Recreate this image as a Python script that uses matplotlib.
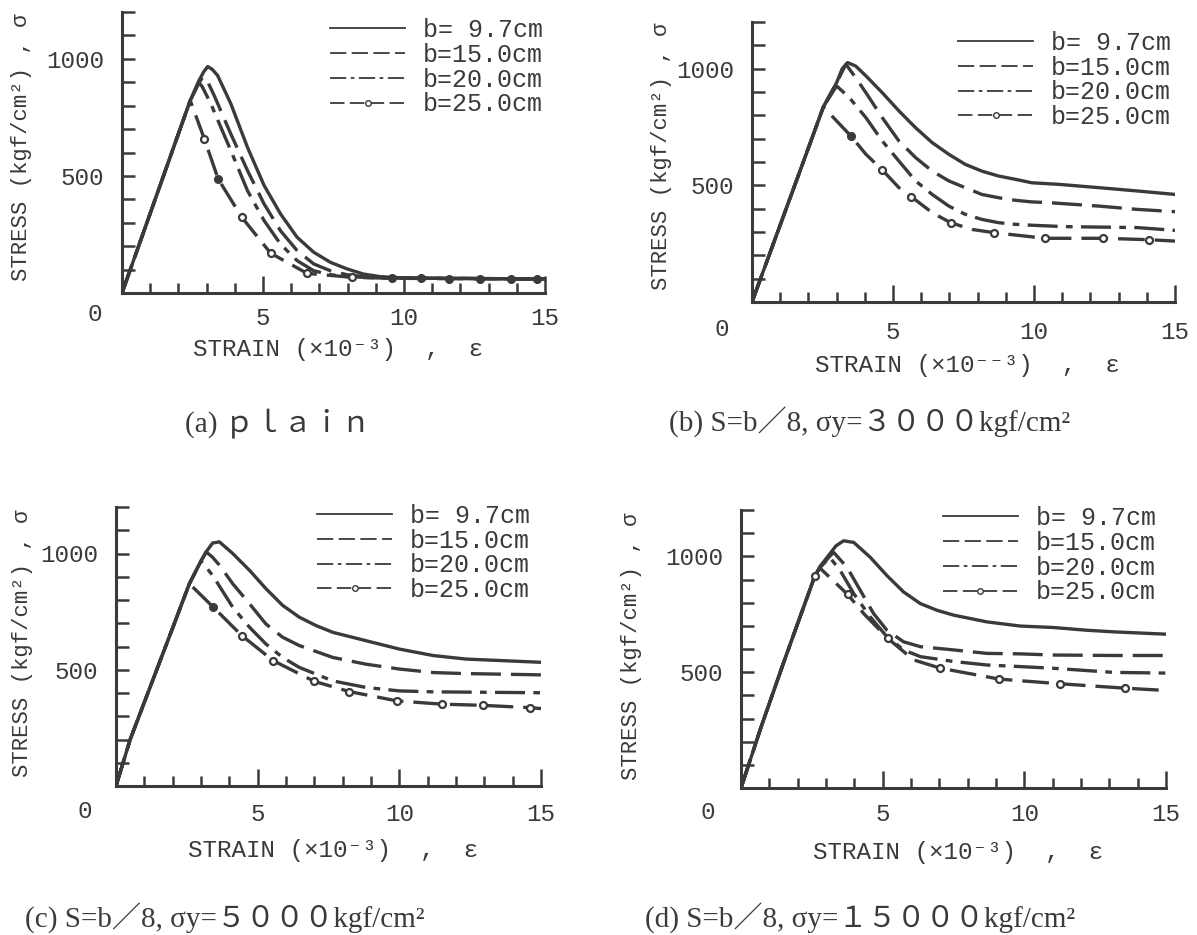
import matplotlib
matplotlib.use("Agg")
import matplotlib.pyplot as plt
from matplotlib.lines import Line2D

plt.rcParams['font.family'] = ['Liberation Mono', 'DejaVu Sans Mono', 'Noto Sans CJK JP']

INK = '#3a3a3a'
W, H = 1197, 935

LABELS = ['b= 9.7cm', 'b=15.0cm', 'b=20.0cm', 'b=25.0cm']

# (a) plain  -- strain (x1e-3), stress (kgf/cm2)
a_x97 = [0, 1.0, 2.0, 2.42, 2.72, 2.9, 3.04, 3.2, 3.39, 3.86, 4.45, 5.04, 5.62, 6.21, 6.8, 7.39, 7.98, 8.56, 9.15, 10, 12, 14, 15]
a_y97 = [0, 340, 680, 822, 905, 945, 967, 955, 929, 808, 622, 459, 338, 238, 174, 131, 103, 81, 70, 64, 62, 60, 60]
a_x15 = [0, 1.0, 2.0, 2.42, 2.72, 2.86, 3.0, 3.27, 3.86, 4.45, 5.04, 5.62, 6.21, 6.8, 7.39, 7.98, 8.56, 9.15, 10, 15]
a_y15 = [0, 340, 680, 822, 895, 922, 912, 843, 679, 523, 380, 266, 181, 124, 95, 78, 70, 66, 64, 60]
a_x20 = [0, 1.0, 2.0, 2.42, 2.72, 2.85, 3.15, 3.86, 4.45, 5.04, 5.62, 6.21, 6.8, 7.39, 7.98, 9.0, 15]
a_y20 = [0, 340, 680, 822, 900, 880, 808, 608, 437, 309, 209, 138, 95, 78, 70, 65, 60]
a_x25 = [0, 1.0, 2.0, 2.42, 2.92, 3.41, 4.25, 5.27, 6.56, 8.15, 9.56, 10.6, 11.6, 12.7, 13.8, 14.7, 15]
a_y25 = [0, 340, 680, 822, 658, 487, 323, 170, 84, 67, 63, 62, 61, 61, 60, 60, 60]
a_open = [4, 6, 7, 8, 9]
a_fill = [5, 10, 11, 12, 13, 14, 15]

# (b) S=b/8, sy=3000
b_x97 = [0, 1.0, 2.0, 2.53, 3.0, 3.2, 3.39, 3.68, 4.04, 4.62, 5.21, 5.8, 6.39, 6.98, 7.56, 8.15, 8.74, 9.33, 9.92, 10.9, 12.3, 13.65, 15]
b_y97 = [0, 330, 660, 836, 940, 1000, 1026, 1011, 969, 897, 819, 747, 683, 633, 590, 561, 540, 526, 511, 504, 490, 476, 461]
b_x15 = [0, 1.0, 2.0, 2.53, 3.0, 3.33, 3.68, 4.04, 4.62, 5.21, 5.8, 6.39, 6.98, 7.56, 8.15, 8.74, 9.33, 9.92, 10.5, 12.3, 13.65, 15]
b_y15 = [0, 330, 660, 836, 940, 1019, 961, 897, 790, 690, 619, 561, 519, 490, 461, 447, 436, 429, 426, 411, 397, 387]
b_x20 = [0, 1.0, 2.0, 2.53, 3.0, 3.45, 4.04, 4.62, 5.21, 5.8, 6.39, 6.98, 7.56, 8.15, 8.74, 9.33, 9.92, 11.1, 13.65, 15]
b_y20 = [0, 330, 660, 836, 926, 876, 790, 690, 604, 519, 461, 411, 376, 354, 340, 333, 329, 323, 319, 307]
b_x25 = [0, 1.0, 2.0, 2.53, 3.51, 4.04, 4.62, 5.21, 5.65, 6.39, 7.04, 7.8, 8.59, 10.4, 12.44, 14.09, 15]
b_y25 = [0, 330, 660, 836, 711, 633, 566, 490, 451, 383, 340, 311, 297, 273, 273, 267, 261]
b_open = [6, 8, 10, 12, 13, 14, 15]
b_fill = [4]

# (c) S=b/8, sy=5000
c_x97 = [0, 0.5, 1.0, 2.0, 2.59, 3.0, 3.2, 3.41, 3.65, 4.12, 4.71, 5.29, 5.88, 6.47, 7.06, 7.65, 8.82, 10.0, 11.2, 12.35, 15]
c_y97 = [0, 200, 360, 680, 870, 968, 1010, 1045, 1050, 1000, 928, 849, 777, 726, 690, 661, 625, 589, 561, 546, 532]
c_x15 = [0, 0.5, 1.0, 2.0, 2.59, 3.0, 3.18, 3.4, 3.65, 4.12, 4.71, 5.29, 5.88, 6.47, 7.65, 8.82, 10.0, 11.2, 12.17, 15]
c_y15 = [0, 200, 360, 680, 870, 968, 1007, 985, 950, 870, 784, 697, 640, 604, 553, 524, 503, 488, 484, 478]
c_x20 = [0, 0.5, 1.0, 2.0, 2.59, 3.0, 3.41, 4.12, 4.71, 5.29, 5.88, 6.47, 7.65, 8.82, 10.0, 11.2, 15]
c_y20 = [0, 200, 360, 680, 870, 968, 906, 769, 683, 611, 553, 510, 452, 424, 409, 405, 401]
c_x25 = [0, 0.5, 1.0, 2.0, 2.59, 3.41, 4.44, 5.55, 7.0, 8.24, 9.92, 11.5, 12.94, 14.6, 15]
c_y25 = [0, 200, 360, 680, 870, 772, 647, 539, 450, 406, 366, 352, 347, 337, 333]
c_open = [6, 7, 8, 9, 10, 11, 12, 13]
c_fill = [5]

# (d) S=b/8, sy=15000
d_x97 = [0, 0.7, 1.5, 2.0, 2.6, 2.78, 3.13, 3.35, 3.62, 3.98, 4.56, 5.15, 5.74, 6.33, 6.92, 7.51, 8.68, 9.86, 11.0, 12.2, 13.15, 15]
d_y97 = [0, 260, 540, 710, 913, 955, 1010, 1045, 1067, 1060, 996, 917, 846, 796, 767, 746, 717, 699, 693, 681, 674, 664]
d_x15 = [0, 0.7, 1.5, 2.0, 2.6, 2.78, 3.13, 3.27, 3.74, 4.21, 4.68, 5.15, 5.74, 6.33, 7.51, 8.68, 9.86, 11.0, 13.15, 15]
d_y15 = [0, 260, 540, 710, 913, 950, 1000, 1017, 953, 853, 753, 681, 631, 610, 596, 581, 579, 574, 572, 572]
d_x20 = [0, 0.7, 1.5, 2.0, 2.6, 2.78, 3.13, 3.5, 3.98, 4.56, 5.15, 5.74, 6.33, 7.51, 8.68, 9.86, 11.0, 13.15, 15]
d_y20 = [0, 260, 540, 710, 913, 950, 996, 939, 839, 739, 653, 596, 567, 546, 531, 524, 517, 499, 496]
d_x25 = [0, 0.7, 1.5, 2.0, 2.6, 2.78, 3.76, 4.33, 5.18, 6.09, 7.04, 9.12, 11.25, 13.54, 15]
d_y25 = [0, 260, 540, 710, 913, 950, 836, 753, 646, 553, 517, 470, 450, 431, 421]
d_open = [4, 6, 8, 10, 11, 12, 13]
d_fill = []

CAPTIONS = ['(a) ｐｌａｉｎ',
            '(b) S=b／8, σy=３０００kgf/cm²',
            '(c) S=b／8, σy=５０００kgf/cm²',
            '(d) S=b／8, σy=１５０００kgf/cm²']
XLABELS = ['STRAIN (×10⁻³)  ,  ε', 'STRAIN (×10⁻⁻³)  ,  ε',
           'STRAIN (×10⁻³)  ,  ε', 'STRAIN (×10⁻³)  ,  ε']
YLABEL = 'STRESS (kgf/cm²) , σ'

LW = 2.4
STYLES = [dict(ls='-'),
          dict(ls=(0, (9, 3))),
          dict(ls=(0, (9, 2.5, 2, 2.5))),
          dict(ls=(0, (8, 3)))]

# pixel boxes: left, right, top, bottom
panels = [
    dict(box=(122, 545, 12, 293),
         curves=[(a_x97, a_y97), (a_x15, a_y15), (a_x20, a_y20), (a_x25, a_y25)],
         open=a_open, fill=a_fill, leg=(0.492, 0.978), ylab=(-0.213, 0.52),
         xlab=-0.16, zero=(-19.4, -15.8), pad=10, cap=(278, 423)),
    dict(box=(752, 1175, 22, 302),
         curves=[(b_x97, b_y97), (b_x15, b_y15), (b_x20, b_y20), (b_x25, b_y25)],
         open=b_open, fill=b_fill, leg=(0.487, 0.968), ylab=(-0.19, 0.52),
         xlab=-0.186, zero=(-21.6, -20), pad=14, cap=(870, 423)),
    dict(box=(116, 541, 507, 786),
         curves=[(c_x97, c_y97), (c_x15, c_y15), (c_x20, c_y20), (c_x25, c_y25)],
         open=c_open, fill=c_fill, leg=(0.473, 1.011), ylab=(-0.195, 0.51),
         xlab=-0.19, zero=(-22.3, -18.7), pad=12, cap=(225, 918)),
    dict(box=(741, 1166, 510, 788),
         curves=[(d_x97, d_y97), (d_x15, d_y15), (d_x20, d_y20), (d_x25, d_y25)],
         open=d_open, fill=d_fill, leg=(0.475, 1.014), ylab=(-0.233, 0.51),
         xlab=-0.19, zero=(-23.8, -17.3), pad=11, cap=(860, 918)),
]

fig = plt.figure(figsize=(W / 100, H / 100), dpi=100)

for i, p in enumerate(panels):
    l, r, t, b = p['box']
    ax = fig.add_axes([l / W, 1 - b / H, (r - l) / W, (b - t) / H])

    for (xs, ys), st in zip(p['curves'], STYLES):
        ax.plot(xs, ys, color=INK, lw=LW, solid_capstyle='round', **st)

    # circle markers on the b=25cm curve
    xs, ys = p['curves'][3]
    if p['open']:
        ax.plot([xs[k] for k in p['open']], [ys[k] for k in p['open']], ls='none',
                marker='o', ms=5, mew=1.6, mfc='white', mec=INK, zorder=3)
    if p['fill']:
        ax.plot([xs[k] for k in p['fill']], [ys[k] for k in p['fill']], ls='none',
                marker='o', ms=5.5, mfc=INK, mec=INK, zorder=3)

    ax.set_xlim(0, 15)
    ax.set_ylim(0, 1200)
    for s in ['top', 'right']:
        ax.spines[s].set_visible(False)
    for s in ['left', 'bottom']:
        ax.spines[s].set_linewidth(2.2)
        ax.spines[s].set_color(INK)

    ax.set_xticks([5, 10, 15])
    ax.set_xticks(range(1, 15), minor=True)
    ax.set_xticklabels(['5', '10', '15'])
    ax.set_yticks([500, 1000])
    ax.set_yticks([y for y in range(100, 1201, 100) if y not in (500, 1000)], minor=True)
    ax.set_yticklabels(['500', '1000'])
    ax.tick_params(axis='x', which='major', direction='in', length=12, width=1.8,
                   color=INK, labelsize=17.5, labelcolor=INK, pad=p['pad'])
    ax.tick_params(axis='x', which='minor', direction='in', length=7, width=1.8, color=INK)
    ax.tick_params(axis='y', which='both', direction='in', length=9, width=1.8,
                   color=INK, labelsize=17.5, labelcolor=INK, pad=13)

    ax.annotate('0', xy=(0, 0), xycoords='data', xytext=p['zero'],
                textcoords='offset points', ha='center', va='center',
                fontsize=17.5, color=INK)

    ax.set_ylabel(YLABEL, fontsize=16, color=INK)
    ax.yaxis.set_label_coords(*p['ylab'])
    ax.set_xlabel(XLABELS[i], fontsize=17.5, color=INK)
    ax.xaxis.set_label_coords(0.51, p['xlab'])

    handles = [Line2D([], [], color=INK, lw=1.3, **STYLES[0]),
               Line2D([], [], color=INK, lw=1.3, **STYLES[1]),
               Line2D([], [], color=INK, lw=1.3, **STYLES[2]),
               Line2D([], [], color=INK, lw=1.3, marker='o', ms=4, mfc='white',
                      mec=INK, **STYLES[3])]
    ax.legend(handles, LABELS, loc='upper left', bbox_to_anchor=p['leg'],
              frameon=False, borderpad=0, borderaxespad=0, fontsize=18,
              handlelength=3.0, handletextpad=0.72, labelspacing=0.03,
              labelcolor=INK)

    fig.text(p['cap'][0] / W, 1 - p['cap'][1] / H, CAPTIONS[i], ha='center', va='center',
             fontsize=21, color=INK,
             family=['Liberation Serif', 'DejaVu Serif', 'Noto Sans CJK JP'])

fig.savefig('out.png', dpi=100, facecolor='white')
